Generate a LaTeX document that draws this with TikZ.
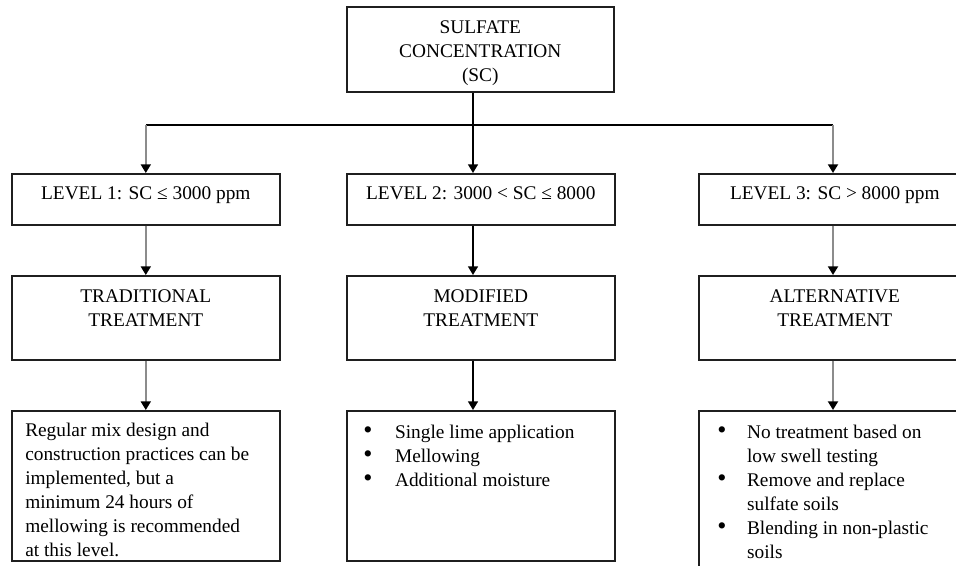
\documentclass[tikz,border=0pt]{standalone}
\usepackage{fontspec}
\setmainfont{Liberation Serif}
\usetikzlibrary{arrows.meta}
\newcommand{\bigbul}{\raisebox{-0.5pt}{\scalebox{1.35}{\textbullet}}}
\tikzset{
  box/.style={draw=black!88, line width=1.2pt, inner sep=0pt, anchor=north west, fill=white},
  lbl/.style={font=\fontsize{14.5}{18}\selectfont, inner sep=0pt, text=black},
  conn/.style={line width=1.1pt, draw=black},
  garrow/.style={line width=1.4pt, draw=black!45, -{Triangle[width=7.5pt,length=6.5pt,color=black,fill=black]}},
  barrow/.style={line width=1.1pt, draw=black, -{Triangle[width=7.5pt,length=6.5pt,color=black,fill=black]}},
}
\begin{document}
\begin{tikzpicture}[x=0.75pt,y=-0.75pt]
\useasboundingbox (0,0) rectangle (956,566);
\clip (0,0) rectangle (956,566);
\fill[white] (0,0) rectangle (956,566);

% top box
\node[box, minimum width=200.25pt, minimum height=63.75pt] (top) at (346,6) {};
\node[lbl, align=center, anchor=north] (toptxt) at ([yshift=-11pt]top.north) {SULFATE\\CONCENTRATION\\(SC)};

% level boxes
\node[box, minimum width=201pt, minimum height=38.25pt] (l1) at (11,173) {};
\node[box, minimum width=201pt, minimum height=38.25pt] (l2) at (346,173) {};
\node[box, minimum width=204pt, minimum height=38.25pt] (l3) at (698,173) {};
\node[lbl, anchor=base] (l1txt) at ([yshift=-20.25pt]l1.north) {LEVEL 1: SC ≤ 3000 ppm};
\node[lbl, anchor=base] (l2txt) at ([yshift=-20.25pt]l2.north) {LEVEL 2: 3000 < SC ≤ 8000};
\node[lbl, anchor=base] (l3txt) at ([yshift=-20.25pt]l3.north) {LEVEL 3: SC > 8000 ppm};

% treatment boxes
\node[box, minimum width=201pt, minimum height=63pt] (t1) at (11,275) {};
\node[box, minimum width=201pt, minimum height=63pt] (t2) at (346,275) {};
\node[box, minimum width=204pt, minimum height=63pt] (t3) at (698,275) {};
\node[lbl, align=center, anchor=north] (t1txt) at ([yshift=-10.5pt]t1.north) {TRADITIONAL\\TREATMENT};
\node[lbl, align=center, anchor=north] (t2txt) at ([yshift=-10.5pt]t2.north) {MODIFIED\\TREATMENT};
\node[lbl, align=center, anchor=north] (t3txt) at ([yshift=-10.5pt]t3.north) {ALTERNATIVE\\TREATMENT};

% detail boxes
\node[box, minimum width=201pt, minimum height=112.5pt] (d1) at (11,410) {};
\node[box, minimum width=201pt, minimum height=112.5pt] (d2) at (346,410) {};
\node[box, minimum width=204pt, minimum height=127.5pt] (d3) at (698,410) {};
\node[lbl, align=left, anchor=north west] (d1txt) at ([xshift=10.5pt,yshift=-9.75pt]d1.north west)
  {Regular mix design and\\construction practices can be\\implemented, but a\\minimum 24 hours of\\mellowing is recommended\\at this level.};
\node[lbl, anchor=north west] (d2txt) at ([xshift=12.75pt,yshift=-8.25pt]d2.north west)
  {\begin{tabular}{@{}l@{\hspace{17pt}}l@{}}
   \bigbul & Single lime application\\
   \bigbul & Mellowing\\
   \bigbul & Additional moisture
   \end{tabular}};
\node[lbl, anchor=north west] (d3txt) at ([xshift=14.25pt,yshift=-8.25pt]d3.north west)
  {\begin{tabular}{@{}l@{\hspace{15.5pt}}l@{}}
   \bigbul & No treatment based on\\
               & low swell testing\\
   \bigbul & Remove and replace\\
               & sulfate soils\\
   \bigbul & Blending in non-plastic\\
               & soils
   \end{tabular}};

% connectors
\coordinate (j) at (473,125);
\coordinate (hl) at (l1.north |- j);
\coordinate (hr) at (833,125);
\draw[conn] (top.south -| j) -- (j);
\draw[conn] (hl) -- (hr);
\draw[garrow] (hl) -- (l1.north);
\draw[barrow] (j) -- (l2.north -| j);
\draw[garrow] (hr) -- (l3.north -| hr);
\draw[garrow] (l1.south) -- (t1.north);
\draw[barrow] (l2.south -| j) -- (t2.north -| j);
\draw[garrow] (l3.south -| hr) -- (t3.north -| hr);
\draw[garrow] (t1.south) -- (d1.north);
\draw[barrow] (t2.south -| j) -- (d2.north -| j);
\draw[garrow] (t3.south -| hr) -- (d3.north -| hr);
\end{tikzpicture}
\end{document}
